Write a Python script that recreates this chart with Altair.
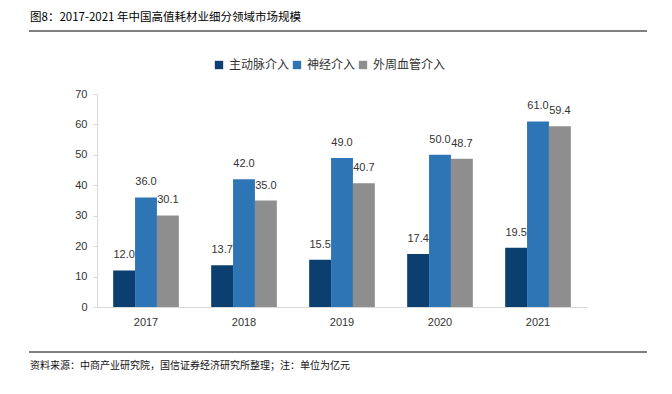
import altair as alt
import pandas as pd

years = ["2017", "2018", "2019", "2020", "2021"]
series = ["主动脉介入", "神经介入", "外周血管介入"]
aortic = [12.0, 13.7, 15.5, 17.4, 19.5]
neuro = [36.0, 42.0, 49.0, 50.0, 61.0]
peripheral = [30.1, 35.0, 40.7, 48.7, 59.4]
colors = ["#0B3F70", "#2E75B6", "#8E8E8E"]

title_text = "图8：2017-2021 年中国高值耗材业细分领域市场规模"
footer_text = "资料来源：中商产业研究院，国信证券经济研究所整理；注：单位为亿元"

rows = []
for i, y in enumerate(years):
    for s, vals in zip(series, [aortic, neuro, peripheral]):
        rows.append({"year": y, "series": s, "value": vals[i], "label": f"{vals[i]:.1f}"})
df = pd.DataFrame(rows)

W, H = 490, 213
CJK = "Noto Sans CJK SC"

x = alt.X("year:N", sort=years, title=None,
          scale=alt.Scale(paddingInner=0.33, paddingOuter=0.165),
          axis=alt.Axis(labelAngle=0, labelFont="Liberation Sans", labelFontSize=11,
                        labelColor="#333333", domainColor="#D9D9D9", tickColor="#D9D9D9",
                        ticks=False, labelPadding=9))
xo = alt.XOffset("series:N", sort=series)
y = alt.Y("value:Q", title=None,
          scale=alt.Scale(domain=[0, 70]),
          axis=alt.Axis(values=list(range(0, 71, 10)), grid=False, labelFont="Liberation Sans",
                        labelFontSize=11, labelColor="#333333", domainColor="#D9D9D9",
                        tickColor="#D9D9D9", tickSize=4, labelPadding=6))

bars = alt.Chart(df).mark_bar().encode(
    x=x, xOffset=xo, y=y,
    color=alt.Color("series:N", sort=series,
                    scale=alt.Scale(domain=series, range=colors),
                    legend=alt.Legend(title=None, orient="none", direction="horizontal",
                                      legendX=116, legendY=-35, symbolType="square",
                                      symbolSize=70, symbolStrokeWidth=0,
                                      labelFont=CJK, labelFontSize=12, labelColor="#333333",
                                      columnPadding=1, symbolOffset=0, labelOffset=4)),
)

labels = alt.Chart(df).mark_text(dy=-15, font="Liberation Sans", fontSize=11, color="#333333").encode(
    x=x, xOffset=xo, y=y, text="label:N"
)

title = alt.Chart(pd.DataFrame({"t": [title_text]})).mark_text(
    align="left", baseline="middle", font=CJK, fontSize=11.5, fontWeight="normal", color="#000000"
).encode(x=alt.value(-67), y=alt.value(-76), text="t:N")
footer = alt.Chart(pd.DataFrame({"t": [footer_text]})).mark_text(
    align="left", baseline="middle", font=CJK, fontSize=10, color="#111111"
).encode(x=alt.value(-67), y=alt.value(272), text="t:N")
rule_top = alt.Chart(pd.DataFrame({"a": [0]})).mark_rule(color="#000000", strokeWidth=1).encode(
    x=alt.value(-68), x2=alt.value(550), y=alt.value(-63))
rule_bot = alt.Chart(pd.DataFrame({"a": [0]})).mark_rule(color="#000000", strokeWidth=1).encode(
    x=alt.value(-68), x2=alt.value(550), y=alt.value(258))

chart = alt.layer(bars, labels, title, footer, rule_top, rule_bot).properties(
    width=W, height=H,
    autosize=alt.AutoSizeParams(type="none"),
    padding={"left": 89, "top": 86, "right": 70, "bottom": 70},
    background="white",
).configure_view(stroke=None)

chart.save("out.html", embed_options={"renderer": "svg", "actions": False})
